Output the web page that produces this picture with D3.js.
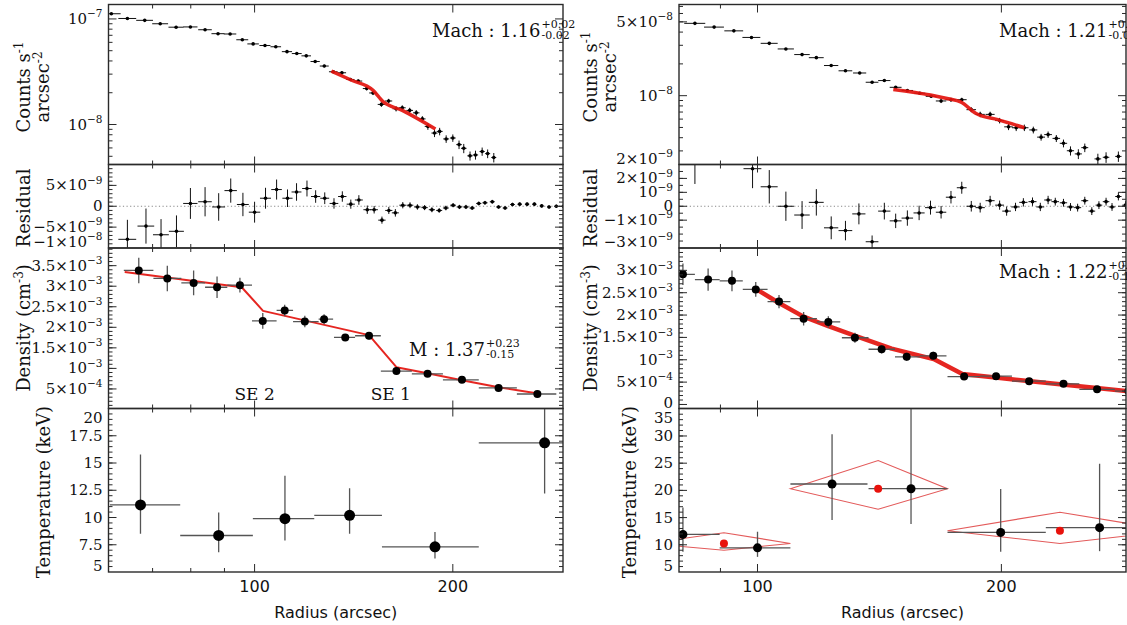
<!DOCTYPE html>
<html>
<head>
<meta charset="utf-8">
<script src="https://cdn.jsdelivr.net/npm/d3@7"></script>
<style>body{margin:0;background:#fff}</style>
</head>
<body>
<script>
/* DATA */

// surface brightness, left column: [radius, counts s^-1 arcsec^-2, error]
var sbLeft = [
  [60.6, 1.12e-7, 1.5e-9], [64.1, 1.01e-7, 1.2e-9], [68.1, 9.7e-8, 1.2e-9], [71.9, 9.0e-8, 1.2e-9],
  [76.0, 8.35e-8, 1.2e-9], [79.9, 8.4e-8, 1.2e-9], [84.1, 7.9e-8, 1.1e-9], [88.0, 7.25e-8, 1.1e-9],
  [91.8, 7.2e-8, 1.1e-9], [95.8, 6.35e-8, 1.0e-9], [99.5, 5.8e-8, 1.0e-9], [103.7, 5.6e-8, 1.0e-9],
  [107.7, 5.45e-8, 1.0e-9], [112.0, 4.9e-8, 1.0e-9], [115.9, 4.7e-8, 1.0e-9], [119.8, 4.47e-8, 1.0e-9],
  [123.6, 3.95e-8, 1.0e-9], [127.6, 3.58e-8, 1.0e-9], [131.7, 3.16e-8, 1.0e-9], [135.7, 3.09e-8, 1.0e-9],
  [139.8, 2.67e-8, 9e-10], [143.7, 2.58e-8, 9e-10], [148.0, 2.19e-8, 9e-10], [151.3, 1.99e-8, 9e-10],
  [155.8, 1.55e-8, 8e-10], [159.8, 1.67e-8, 8e-10], [164.0, 1.41e-8, 8e-10], [167.6, 1.44e-8, 8e-10],
  [172.0, 1.36e-8, 8e-10], [176.0, 1.29e-8, 8e-10], [179.8, 1.13e-8, 7e-10], [183.3, 9.6e-9, 7e-10],
  [187.6, 8.3e-9, 7e-10], [191.0, 8.6e-9, 7e-10], [195.4, 7.3e-9, 6e-10], [200.0, 7.45e-9, 6e-10],
  [204.4, 6.45e-9, 6e-10], [207.8, 5.95e-9, 6e-10], [212.4, 5.05e-9, 5e-10], [216.5, 5.15e-9, 5e-10],
  [221.6, 5.55e-9, 5e-10], [225.9, 5.3e-9, 5e-10], [230.8, 4.87e-9, 5e-10]
];
var sbLeftHalfBin = 2;
var sbFitLeft = [[130.8, 3.2e-8], [140.1, 2.64e-8], [151.3, 2.11e-8], [154.5, 1.82e-8], [156.5, 1.66e-8], [167.6, 1.36e-8], [188.2, 9.07e-9]];

// residuals, left column: [radius, residual, error]
var resLeft = [
  [64.1, -7.92e-9, 4.67e-9], [68.4, -4.75e-9, 4.2e-9], [72.1, -6.83e-9, 3.75e-9], [76.1, -6.0e-9, 3.8e-9],
  [79.9, 0.67e-9, 3.7e-9], [84.1, 1.08e-9, 3.5e-9], [88.2, -0.17e-9, 3.3e-9], [92.0, 3.75e-9, 2.9e-9],
  [96.0, 0.42e-9, 2.8e-9], [100.0, -1.42e-9, 2.5e-9], [103.9, 1.92e-9, 2.5e-9], [108.0, 4.0e-9, 2.4e-9],
  [112.2, 1.92e-9, 2.1e-9], [115.8, 3.42e-9, 2.1e-9], [120.1, 4.25e-9, 1.9e-9], [123.8, 2.33e-9, 1.5e-9],
  [127.8, 1.92e-9, 1.4e-9], [132.0, 0.67e-9, 1.25e-9], [135.9, 2.33e-9, 1.25e-9], [140.0, 0.5e-9, 1.1e-9],
  [144.0, 1.5e-9, 1.15e-9], [148.3, -0.83e-9, 1.0e-9], [151.9, -0.83e-9, 0.9e-9], [156.1, -3.33e-9, 0.85e-9],
  [159.9, -1.0e-9, 0.85e-9], [163.6, -1.58e-9, 0.9e-9], [167.9, 0.25e-9, 0.75e-9], [172.2, 0.25e-9, 0.7e-9],
  [176.7, -0.17e-9, 0.65e-9], [181.2, -0.33e-9, 0.6e-9], [185.9, -0.83e-9, 0.6e-9], [190.7, -1.0e-9, 0.55e-9],
  [195.2, -0.42e-9, 0.55e-9], [200.2, 0.25e-9, 0.5e-9], [204.7, -0.17e-9, 0.5e-9], [209.4, -0.17e-9, 0.5e-9],
  [214.0, -0.42e-9, 0.45e-9], [219.0, 0.67e-9, 0.45e-9], [223.8, 0.83e-9, 0.45e-9], [229.6, 1.08e-9, 0.45e-9],
  [234.7, -0.17e-9, 0.4e-9], [240.1, -0.42e-9, 0.4e-9], [246.4, 0.42e-9, 0.4e-9], [252.7, 0.5e-9, 0.4e-9],
  [259.3, 0.5e-9, 0.4e-9], [266.0, 0.5e-9, 0.4e-9], [272.9, 0.08e-9, 0.4e-9], [280.0, -0.17e-9, 0.4e-9],
  [287.2, 0.0, 0.4e-9], [294.6, 0.0, 0.4e-9]
];

// density, left column: [radius, bin low, bin high, n (cm^-3), error]
var denLeft = [
  [66.7, 63.3, 70.2, 3.385e-3, 0.31e-3], [73.7, 70.2, 77.4, 3.19e-3, 0.31e-3], [80.8, 77.4, 84.1, 3.08e-3, 0.30e-3],
  [87.7, 84.1, 90.9, 2.975e-3, 0.26e-3], [95.0, 90.9, 99.1, 3.025e-3, 0.18e-3], [102.9, 99.1, 108.0, 2.156e-3, 0.19e-3],
  [111.1, 108.0, 114.4, 2.41e-3, 0.14e-3], [119.2, 114.4, 125.1, 2.139e-3, 0.14e-3], [127.5, 125.1, 131.6, 2.197e-3, 0.12e-3],
  [137.3, 132.0, 142.1, 1.754e-3, 0.08e-3], [149.2, 142.1, 155.5, 1.795e-3, 0.09e-3], [164.2, 155.5, 173.3, 0.934e-3, 0.08e-3],
  [183.1, 173.3, 193.2, 0.869e-3, 0.08e-3], [206.5, 193.2, 219.0, 0.721e-3, 0.065e-3], [234.7, 219.0, 250.2, 0.525e-3, 0.06e-3],
  [268.8, 250.2, 287.2, 0.377e-3, 0.057e-3]
];
var denFitLeft = [[63.5, 3.344e-3], [95.6, 2.975e-3], [103, 2.40e-3], [149.2, 1.81e-3], [164.2, 1.03e-3], [183, 0.88e-3], [206.5, 0.71e-3], [234.7, 0.54e-3], [269.4, 0.39e-3]];

// temperature, left column: [radius, bin low, bin high, kT, kT low, kT high]
var temLeft = [
  [67.1, 60.3, 77.1, 11.15, 8.51, 15.77], [88.2, 77.1, 99.4, 8.35, 6.82, 10.45], [111.2, 99.4, 123.2, 9.89, 7.89, 13.83],
  [139.4, 123.2, 156.1, 10.2, 8.51, 12.69], [187.9, 156.1, 219.0, 7.31, 6.23, 8.66], [275.7, 219.0, 297.7, 16.85, 12.2, 21.0]
];

// right column
var sbRight = [
  [83.7, 4.84e-8, 6e-10], [88.4, 4.46e-8, 6e-10], [93.5, 4.11e-8, 6e-10], [98.3, 3.56e-8, 5e-10],
  [103.4, 3.13e-8, 5e-10], [108.4, 2.77e-8, 5e-10], [113.5, 2.45e-8, 4e-10], [118.2, 2.29e-8, 4e-10],
  [123.3, 1.93e-8, 4e-10], [128.4, 1.72e-8, 4e-10], [133.7, 1.64e-8, 4e-10], [138.5, 1.34e-8, 3e-10],
  [143.4, 1.39e-8, 3e-10], [148.1, 1.20e-8, 3e-10], [153.1, 1.12e-8, 3e-10], [158.6, 1.055e-8, 3e-10],
  [163.8, 9.86e-9, 3e-10], [168.5, 8.91e-9, 4e-10], [173.3, 9.16e-9, 4e-10], [178.7, 9.16e-9, 4e-10],
  [183.6, 7.37e-9, 4e-10], [188.3, 6.65e-9, 4e-10], [193.7, 6.65e-9, 4e-10], [199.0, 5.81e-9, 3.5e-10],
  [204.1, 5.07e-9, 3.5e-10], [208.6, 4.97e-9, 3.5e-10], [213.5, 4.97e-9, 3.5e-10], [219.0, 4.74e-9, 3.5e-10],
  [223.9, 4.05e-9, 3e-10], [228.4, 4.28e-9, 3e-10], [233.8, 3.94e-9, 3e-10], [238.6, 3.54e-9, 3e-10],
  [243.4, 3.01e-9, 3e-10], [248.9, 2.81e-9, 3e-10], [253.5, 3.22e-9, 3e-10], [263.1, 2.52e-9, 3e-10],
  [269.3, 2.61e-9, 3e-10], [278.9, 2.66e-9, 3e-10]
];
var sbRightHalfBin = 2.5;
var sbFitRight = [[147.1, 1.146e-8], [163.5, 1.014e-8], [172, 9.34e-9], [178.1, 8.73e-9], [186.4, 6.74e-9], [198, 5.93e-9], [213.5, 4.97e-9]];

var resRight = [
  [83.7, 4.2e-9, 2.6e-9], [98.6, 2.7e-9, 1.4e-9], [103.4, 1.4e-9, 1.2e-9], [108.4, 0.0, 1.05e-9],
  [113.5, -0.63e-9, 1.0e-9], [118.2, 0.28e-9, 0.95e-9], [123.3, -1.55e-9, 0.82e-9], [128.4, -1.75e-9, 0.7e-9],
  [133.4, -0.55e-9, 0.75e-9], [138.5, -2.55e-9, 0.45e-9], [143.4, -0.35e-9, 0.6e-9], [148.1, -1.05e-9, 0.52e-9],
  [153.1, -0.85e-9, 0.55e-9], [158.3, -0.48e-9, 0.52e-9], [163.5, -0.1e-9, 0.5e-9], [168.5, -0.43e-9, 0.45e-9],
  [173.3, 0.65e-9, 0.45e-9], [178.7, 1.33e-9, 0.43e-9], [183.6, 0.0, 0.38e-9], [188.3, -0.1e-9, 0.35e-9],
  [193.7, 0.4e-9, 0.35e-9], [199.0, 0.08e-9, 0.33e-9], [203.0, -0.35e-9, 0.33e-9], [208.2, -0.05e-9, 0.3e-9],
  [212.9, 0.28e-9, 0.3e-9], [218.5, 0.33e-9, 0.3e-9], [223.4, -0.05e-9, 0.3e-9], [228.4, 0.45e-9, 0.3e-9],
  [233.1, 0.33e-9, 0.28e-9], [238.6, 0.25e-9, 0.28e-9], [243.4, -0.05e-9, 0.28e-9], [248.4, -0.1e-9, 0.28e-9],
  [253.5, 0.4e-9, 0.28e-9], [258.6, -0.35e-9, 0.28e-9], [263.9, 0.08e-9, 0.28e-9], [269.3, 0.33e-9, 0.28e-9],
  [273.9, -0.05e-9, 0.28e-9], [278.9, 0.7e-9, 0.28e-9], [284.6, 0.08e-9, 0.28e-9]
];

var denRight = [
  [80.9, 78.0, 83.7, 2.912e-3, 0.24e-3], [86.9, 83.7, 89.8, 2.794e-3, 0.25e-3], [93.0, 89.8, 95.9, 2.765e-3, 0.23e-3],
  [99.5, 95.9, 102.9, 2.574e-3, 0.165e-3], [106.3, 102.9, 109.8, 2.301e-3, 0.15e-3], [114.0, 109.8, 118.4, 1.919e-3, 0.15e-3],
  [122.3, 118.4, 126.5, 1.846e-3, 0.13e-3], [131.9, 127.1, 137.1, 1.493e-3, 0.11e-3], [142.3, 137.1, 147.8, 1.235e-3, 0.095e-3],
  [152.8, 147.8, 158.6, 1.066e-3, 0.09e-3], [164.8, 158.6, 171.1, 1.088e-3, 0.09e-3], [179.9, 171.6, 188.3, 0.625e-3, 0.07e-3],
  [197.0, 188.3, 206.1, 0.632e-3, 0.07e-3], [216.4, 206.1, 226.9, 0.522e-3, 0.065e-3], [238.6, 226.9, 249.6, 0.463e-3, 0.07e-3],
  [262.5, 249.6, 276.1, 0.338e-3, 0.065e-3], [287.0, 276.1, 298.0, 0.30e-3, 0.06e-3]
];
var denFitRight = [[99.3, 2.596e-3], [106.3, 2.27e-3], [113.8, 1.97e-3], [122.3, 1.75e-3], [132.3, 1.53e-3], [146.4, 1.25e-3], [165, 1.015e-3], [179, 0.68e-3], [198, 0.596e-3], [239.5, 0.44e-3], [286, 0.30e-3]];

var temRight = [
  [80.9, 72.9, 89.8, 11.91, 8.7, 16.85], [100.0, 89.8, 109.8, 9.44, 7.78, 12.4], [123.6, 109.8, 136.7, 21.17, 14.57, 30.3],
  [154.7, 137.1, 171.6, 20.31, 13.8, 40.0], [199.6, 171.6, 226.9, 12.28, 8.7, 20.25], [264.4, 226.9, 300.0, 13.15, 8.83, 24.9]
];
// joint fits: centre [radius, kT] and diamond [left r, right r, top kT, bottom kT]
var temJoint = [[90.9, 10.25], [140.9, 20.31], [236.2, 12.59]];
var temDiamond = [[73, 109.8, 12.22, 9.01], [109.8, 171.6, 25.49, 16.54], [171.6, 325, 15.99, 10.25]];

/* TICK LABELS: [value, mantissa, exponent] */
var radiusMajor = [100, 200];
var radiusMinor = [60, 70, 80, 90, 300];
var sbTicksL = [[1e-8, '10', '\u22128'], [1e-7, '10', '\u22127']];
var resTicksL = [[-1e-8, '\u22121\u00d710', '\u22128'], [-5e-9, '\u22125\u00d710', '\u22129'], [0, '0', ''], [5e-9, '5\u00d710', '\u22129']];
var denTicksL = [[5e-4, '5\u00d710', '\u22124'], [1e-3, '10', '\u22123'], [1.5e-3, '1.5\u00d710', '\u22123'], [2e-3, '2\u00d710', '\u22123'], [2.5e-3, '2.5\u00d710', '\u22123'], [3e-3, '3\u00d710', '\u22123'], [3.5e-3, '3.5\u00d710', '\u22123']];
var temTicksL = [[5, '5', ''], [7.5, '7.5', ''], [10, '10', ''], [12.5, '12.5', ''], [15, '15', ''], [17.5, '17.5', ''], [20, '20', '']];
var sbTicksR = [[2e-9, '2\u00d710', '\u22129'], [1e-8, '10', '\u22128'], [5e-8, '5\u00d710', '\u22128']];
var resTicksR = [[-3e-9, '\u22123\u00d710', '\u22129'], [-1e-9, '\u22121\u00d710', '\u22129'], [0, '0', ''], [1e-9, '10', '\u22129'], [2e-9, '2\u00d710', '\u22129']];
var denTicksR = [[0, '0', ''], [5e-4, '5\u00d710', '\u22124'], [1e-3, '10', '\u22123'], [1.5e-3, '1.5\u00d710', '\u22123'], [2e-3, '2\u00d710', '\u22123'], [2.5e-3, '2.5\u00d710', '\u22123'], [3e-3, '3\u00d710', '\u22123']];
var temTicksR = [[5, '5', ''], [10, '10', ''], [15, '15', ''], [20, '20', ''], [25, '25', ''], [30, '30', ''], [35, '35', '']];


/* SETUP */
var width = 1127, height = 625;
var serif = 'DejaVu Serif', sans = 'DejaVu Sans';
var ink = '#2a2a2a';
var barColor = '#555';
var fitRed = '#e3140e';
var tickFont = 15, titleFont = 18, noteFont = 18;

// vertical extents of the 4 stacked panels [bottom, top]
var rowSb = [164.5, 4.5], rowRes = [248, 164.5], rowDen = [408.5, 248], rowTem = [572, 408.5];

var xLeft = d3.scaleLog().domain([60, 294]).range([108.5, 563]);
var xRight = d3.scaleLog().domain([80, 285]).range([679, 1126]);

var svg = d3.select('body').append('svg')
    .attr('width', width)
    .attr('height', height);
svg.append('rect').attr('width', width).attr('height', height).attr('fill', '#fff');
var defs = svg.append('defs');
var clipCount = 0;

// writes "mantissa^exponent" into a text element
function supText(t, base, sup, size) {
    t.append('tspan').text(base);
    if (sup) t.append('tspan').attr('dy', -size * 0.45).attr('font-size', size * 0.7).text(sup);
}

// frame, ticks and y labels of one panel; returns clipped group for data
function panel(x, y, yTicks, yMinor, withXLabels) {
    var x0 = x.range()[0], x1 = x.range()[1];
    var yb = y.range()[0], yt = y.range()[1];
    var id = 'clip' + (clipCount++);
    defs.append('clipPath').attr('id', id).append('rect')
        .attr('x', x0).attr('y', yt).attr('width', x1 - x0).attr('height', yb - yt);

    var data = svg.append('g').attr('clip-path', 'url(#' + id + ')');
    var g = svg.append('g');

    var xt = radiusMajor.map(function (v) { return [v, 8]; })
        .concat(radiusMinor.map(function (v) { return [v, 4]; }))
        .filter(function (d) { var p = x(d[0]); return p > x0 + 1 && p < x1 - 1; });
    xt.forEach(function (d) {
        var p = x(d[0]);
        g.append('line').attr('x1', p).attr('x2', p).attr('y1', yb).attr('y2', yb - d[1]).attr('stroke', ink);
        g.append('line').attr('x1', p).attr('x2', p).attr('y1', yt).attr('y2', yt + d[1]).attr('stroke', ink);
    });

    var yt2 = yTicks.map(function (d) { return [d[0], 8]; })
        .concat(yMinor.map(function (v) { return [v, 4]; }))
        .filter(function (d) { var p = y(d[0]); return p < yb - 1 && p > yt + 1; });
    yt2.forEach(function (d) {
        var p = y(d[0]);
        g.append('line').attr('x1', x0).attr('x2', x0 + d[1]).attr('y1', p).attr('y2', p).attr('stroke', ink);
        g.append('line').attr('x1', x1).attr('x2', x1 - d[1]).attr('y1', p).attr('y2', p).attr('stroke', ink);
    });

    // tick labels, kept inside the panel's height
    yTicks.forEach(function (d) {
        var p = Math.min(Math.max(y(d[0]), yt + 9), yb - 6);
        var t = g.append('text')
            .attr('x', x0 - 6)
            .attr('y', p + 5)
            .attr('text-anchor', 'end')
            .attr('font-family', serif)
            .attr('font-size', tickFont)
            .attr('fill', '#111');
        supText(t, d[1], d[2], tickFont);
    });

    if (withXLabels) {
        radiusMajor.forEach(function (v) {
            g.append('text')
                .attr('x', x(v)).attr('y', yb + 20)
                .attr('text-anchor', 'middle')
                .attr('font-family', sans).attr('font-size', 16).attr('fill', '#111')
                .text(v);
        });
    }

    g.append('rect')
        .attr('x', x0).attr('y', yt)
        .attr('width', x1 - x0).attr('height', yb - yt)
        .attr('fill', 'none').attr('stroke', ink).attr('stroke-width', 1.4);
    return data;
}

function yTitle(x, y, parts) {
    var t = svg.append('text')
        .attr('transform', 'translate(' + x + ',' + y + ') rotate(-90)')
        .attr('text-anchor', 'middle')
        .attr('font-family', serif).attr('font-size', titleFont).attr('fill', '#111');
    parts.forEach(function (p) {
        if (p[1]) t.append('tspan').attr('dy', -7).attr('font-size', 12).text(p[0]);
        else t.append('tspan').attr('dy', p[2] || 0).text(p[0]);
    });
}

// label with stacked super/subscript errors
function machLabel(x, y, main, up, down) {
    var t = svg.append('text').attr('x', x).attr('y', y)
        .attr('font-family', serif).attr('font-size', noteFont).attr('fill', '#111').text(main);
    var w = t.node().getComputedTextLength();
    svg.append('text').attr('x', x + w + 1).attr('y', y - 9)
        .attr('font-family', serif).attr('font-size', 11).attr('fill', '#111').text(up);
    svg.append('text').attr('x', x + w + 1).attr('y', y + 2)
        .attr('font-family', serif).attr('font-size', 11).attr('fill', '#111').text(down);
}

// points with x (bin) and y error bars
function crosses(g, data, x, y, half, dotR) {
    g.append('g').selectAll('line').data(data).join('line')
        .attr('x1', function (d) { return x(d[0] - half); })
        .attr('x2', function (d) { return x(d[0] + half); })
        .attr('y1', function (d) { return y(d[1]); })
        .attr('y2', function (d) { return y(d[1]); })
        .attr('stroke', '#111').attr('stroke-width', 1);
    g.append('g').selectAll('line').data(data).join('line')
        .attr('x1', function (d) { return x(d[0]); })
        .attr('x2', function (d) { return x(d[0]); })
        .attr('y1', function (d) { return y(d[1] - d[2]); })
        .attr('y2', function (d) { return y(d[1] + d[2]); })
        .attr('stroke', '#111').attr('stroke-width', 1);
    g.append('g').selectAll('circle').data(data).join('circle')
        .attr('cx', function (d) { return x(d[0]); })
        .attr('cy', function (d) { return y(d[1]); })
        .attr('r', dotR).attr('fill', '#000');
}

function binned(g, data, x, y, getY, getLo, getHi, dotR) {
    g.append('g').selectAll('line').data(data).join('line')
        .attr('x1', function (d) { return x(d[1]); })
        .attr('x2', function (d) { return x(d[2]); })
        .attr('y1', function (d) { return y(getY(d)); })
        .attr('y2', function (d) { return y(getY(d)); })
        .attr('stroke', barColor).attr('stroke-width', 1.3);
    g.append('g').selectAll('line').data(data).join('line')
        .attr('x1', function (d) { return x(d[0]); })
        .attr('x2', function (d) { return x(d[0]); })
        .attr('y1', function (d) { return y(getLo(d)); })
        .attr('y2', function (d) { return y(getHi(d)); })
        .attr('stroke', barColor).attr('stroke-width', 1.3);
    g.append('g').selectAll('circle').data(data).join('circle')
        .attr('cx', function (d) { return x(d[0]); })
        .attr('cy', function (d) { return y(getY(d)); })
        .attr('r', dotR).attr('fill', '#000');
}

function fitLine(g, data, x, y, w, curve) {
    g.append('path')
        .attr('d', d3.line()
            .x(function (d) { return x(d[0]); })
            .y(function (d) { return y(d[1]); })
            .curve(curve)(data))
        .attr('fill', 'none').attr('stroke', fitRed).attr('stroke-width', w)
        .attr('stroke-linejoin', 'round').attr('stroke-opacity', 0.92);
}

function zeroLine(g, x, y) {
    g.append('line')
        .attr('x1', x.range()[0]).attr('x2', x.range()[1])
        .attr('y1', y(0)).attr('y2', y(0))
        .attr('stroke', '#888').attr('stroke-dasharray', '1.2,2.4');
}

function logMinor(y) {
    return y.ticks().filter(function (v) { var m = v / Math.pow(10, Math.floor(Math.log10(v) + 1e-9)); return Math.abs(m - 1) > 1e-6; });
}
function stepMinor(y, step) {
    var d = y.domain();
    return d3.range(Math.ceil(d[0] / step) * step, d[1], step);
}

/* LEFT COLUMN */
var ySbL = d3.scaleLog().domain([4.18e-9, 1.37e-7]).range(rowSb);
var gSbL = panel(xLeft, ySbL, sbTicksL, logMinor(ySbL), false);
crosses(gSbL, sbLeft, xLeft, ySbL, sbLeftHalfBin, 1.8);
fitLine(gSbL, sbFitLeft, xLeft, ySbL, 3.5, d3.curveMonotoneX);

var yResL = d3.scaleLinear().domain([-1e-8, 1e-8]).range(rowRes);
var gResL = panel(xLeft, yResL, resTicksL, stepMinor(yResL, 1e-9), false);
zeroLine(gResL, xLeft, yResL);
crosses(gResL, resLeft, xLeft, yResL, sbLeftHalfBin, 1.8);

var yDenL = d3.scaleLinear().domain([2.4e-5, 3.93e-3]).range(rowDen);
var gDenL = panel(xLeft, yDenL, denTicksL, stepMinor(yDenL, 1e-4), false);
fitLine(gDenL, denFitLeft, xLeft, yDenL, 2, d3.curveLinear);
binned(gDenL, denLeft, xLeft, yDenL,
    function (d) { return d[3]; }, function (d) { return d[3] - d[4]; }, function (d) { return d[3] + d[4]; }, 4);

var yTemL = d3.scaleLinear().domain([5, 20]).range(rowTem);
var gTemL = panel(xLeft, yTemL, temTicksL, stepMinor(yTemL, 0.5), true);
binned(gTemL, temLeft, xLeft, yTemL,
    function (d) { return d[3]; }, function (d) { return d[4]; }, function (d) { return d[5]; }, 5.5);

/* RIGHT COLUMN */
var ySbR = d3.scaleLog().domain([2.23e-9, 7.3e-8]).range(rowSb);
var gSbR = panel(xRight, ySbR, sbTicksR, logMinor(ySbR), false);
crosses(gSbR, sbRight, xRight, ySbR, sbRightHalfBin, 1.8);
fitLine(gSbR, sbFitRight, xRight, ySbR, 3.5, d3.curveMonotoneX);

var yResR = d3.scaleLinear().domain([-3e-9, 3e-9]).range(rowRes);
var gResR = panel(xRight, yResR, resTicksR, stepMinor(yResR, 5e-10), false);
zeroLine(gResR, xRight, yResR);
crosses(gResR, resRight, xRight, yResR, sbRightHalfBin, 1.8);

var yDenR = d3.scaleLinear().domain([-9e-5, 3.5e-3]).range(rowDen);
var gDenR = panel(xRight, yDenR, denTicksR, stepMinor(yDenR, 1e-4), false);
fitLine(gDenR, denFitRight, xRight, yDenR, 4.5, d3.curveLinear);
binned(gDenR, denRight, xRight, yDenR,
    function (d) { return d[3]; }, function (d) { return d[3] - d[4]; }, function (d) { return d[3] + d[4]; }, 4);

var yTemR = d3.scaleLinear().domain([5, 35.05]).range(rowTem);
var gTemR = panel(xRight, yTemR, temTicksR, stepMinor(yTemR, 1), true);
gTemR.append('g').selectAll('path').data(temDiamond).join('path')
    .attr('d', function (d, i) {
        var c = temJoint[i];
        return 'M' + xRight(d[0]) + ',' + yTemR(c[1]) +
            'L' + xRight(c[0]) + ',' + yTemR(d[2]) +
            'L' + xRight(d[1]) + ',' + yTemR(c[1]) +
            'L' + xRight(c[0]) + ',' + yTemR(d[3]) + 'Z';
    })
    .attr('fill', 'none').attr('stroke', '#e35a5a').attr('stroke-width', 1.1);
binned(gTemR, temRight, xRight, yTemR,
    function (d) { return d[3]; }, function (d) { return d[4]; }, function (d) { return d[5]; }, 4.5);
gTemR.append('g').selectAll('circle').data(temJoint).join('circle')
    .attr('cx', function (d) { return xRight(d[0]); })
    .attr('cy', function (d) { return yTemR(d[1]); })
    .attr('r', 4).attr('fill', '#e8120c');

/* TITLES AND ANNOTATIONS */
yTitle(30, 87, [['Counts s'], ['-1', true]]);
yTitle(49, 87, [['arcsec'], ['-2', true]]);
yTitle(30, 208, [['Residual']]);
yTitle(30, 328, [['Density (cm'], ['-3', true], [')', false, 7]]);
yTitle(50, 492, [['Temperature (keV)']]);

yTitle(597, 77, [['Counts s'], ['-1', true]]);
yTitle(616, 77, [['arcsec'], ['-2', true]]);
yTitle(597, 208, [['Residual']]);
yTitle(597, 328, [['Density (cm'], ['-3', true], [')', false, 7]]);
yTitle(636, 492, [['Temperature (keV)']]);

[xLeft, xRight].forEach(function (x) {
    var r = x.range();
    svg.append('text')
        .attr('x', (r[0] + r[1]) / 2).attr('y', 618)
        .attr('text-anchor', 'middle')
        .attr('font-family', sans).attr('font-size', 16).attr('fill', '#111')
        .text('Radius (arcsec)');
});

machLabel(432, 37, 'Mach : 1.16', '+0.02', '-0.02');
machLabel(999, 37, 'Mach : 1.21', '+0.02', '-0.02');
machLabel(999, 278, 'Mach : 1.22', '+0.23', '-0.13');
machLabel(409, 356, 'M : 1.37', '+0.23', '-0.15');

svg.append('text').attr('x', xLeft(100)).attr('y', rowDen[0] - 8.5)
    .attr('text-anchor', 'middle').attr('font-family', serif).attr('font-size', 17).attr('fill', '#111').text('SE 2');
svg.append('text').attr('x', xLeft(161)).attr('y', rowDen[0] - 8.5)
    .attr('text-anchor', 'middle').attr('font-family', serif).attr('font-size', 17).attr('fill', '#111').text('SE 1');
</script>
</body>
</html>
